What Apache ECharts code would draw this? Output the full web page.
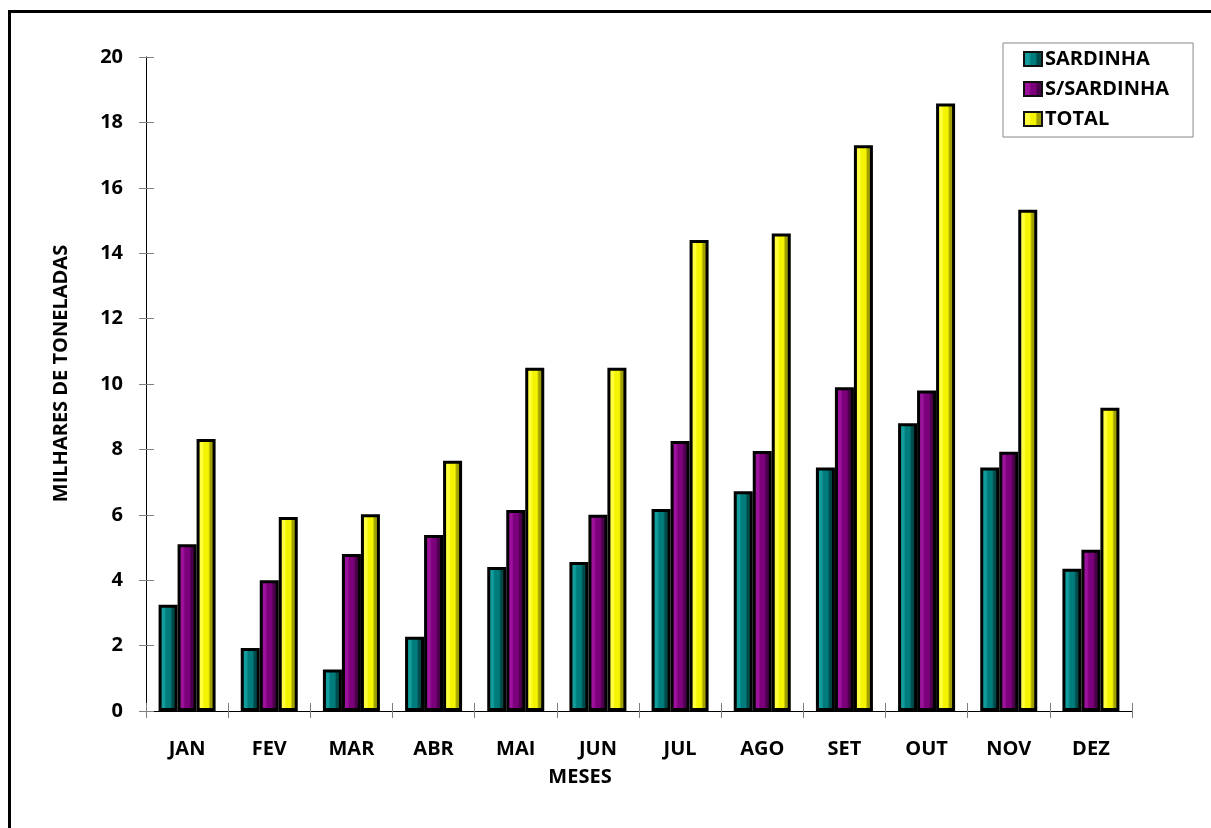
<!DOCTYPE html>
<html>
<head>
<meta charset="utf-8">
<script src="https://cdn.jsdelivr.net/npm/echarts@6/dist/echarts.min.js"></script>
<style>
html,body{margin:0;padding:0;background:#fff;}
#chart{width:1211px;height:828px;}
</style>
</head>
<body>
<div id="chart"></div>
<script>
const categories = ['JAN','FEV','MAR','ABR','MAI','JUN','JUL','AGO','SET','OUT','NOV','DEZ'];
const sardinha   = [3.25, 1.93, 1.27, 2.27, 4.40, 4.56, 6.18, 6.72, 7.45, 8.80, 7.45, 4.35];
const sSardinha  = [5.10, 4.00, 4.80, 5.38, 6.15, 6.00, 8.26, 7.95, 9.90, 9.80, 7.93, 4.93];
const total      = [8.32, 5.93, 6.02, 7.65, 10.50, 10.50, 14.40, 14.60, 17.30, 18.58, 15.33, 9.27];
const seriesNames = ['SARDINHA','S/SARDINHA','TOTAL'];
const yTicks = {min:0, max:20, interval:2};

const FONT = '"Open Sans", sans-serif';

function bevel(light, base, dark){
  return new echarts.graphic.LinearGradient(0,0,1,0,[
    {offset:0, color:dark},
    {offset:0.1, color:light},
    {offset:0.3, color:light},
    {offset:0.4, color:base},
    {offset:0.62, color:base},
    {offset:0.72, color:dark},
    {offset:1, color:dark}
  ]);
}
const fills = [
  bevel('#129c9c','#007c7c','#004a4a'),
  bevel('#9c129c','#7c007c','#4a004a'),
  bevel('#ffff40','#f4f400','#a0a000')
];
const dataSets = [sardinha, sSardinha, total];

const chart = echarts.init(document.getElementById('chart'), null, {renderer:'canvas'});
const grid = {left:146, right:79, top:57, bottom:117, containLabel:false};

const option = {
  animation:false,
  backgroundColor:'#ffffff',
  grid: grid,
  legend: {
    data: seriesNames,
    orient:'vertical',
    left:1003, top:43,
    itemWidth:18, itemHeight:14, itemGap:10,
    padding:[6,24,8,20],
    borderColor:'#888888', borderWidth:1,
    icon:'rect',
    itemStyle:{borderColor:'#111', borderWidth:2},
    textStyle:{fontFamily:FONT, fontWeight:'bold', fontSize:20, color:'#000', padding:[0,0,0,-2]}
  },
  xAxis: [{
    type:'category', data:categories, position:'bottom',
    axisLine:{show:true, lineStyle:{color:'#000', width:1}},
    axisTick:{show:true, alignWithLabel:false, length:7, lineStyle:{color:'#808080'}},
    axisLabel:{margin:28, fontFamily:FONT, fontWeight:'bold', fontSize:20, color:'#000'},
    splitLine:{show:false}
  },{
    type:'category', data:categories, position:'bottom',
    axisLine:{show:false},
    axisTick:{show:true, inside:true, length:8, lineStyle:{color:'#808080'}},
    axisLabel:{show:false}, splitLine:{show:false}
  }],
  yAxis: [{
    type:'value', min:yTicks.min, max:yTicks.max, interval:yTicks.interval,
    axisLine:{show:true, lineStyle:{color:'#000', width:1}},
    axisTick:{show:true, length:7, lineStyle:{color:'#808080'}},
    axisLabel:{margin:23, fontFamily:FONT, fontWeight:'bold', fontSize:20, color:'#000'},
    splitLine:{show:false}
  },{
    type:'value', min:yTicks.min, max:yTicks.max, interval:yTicks.interval, position:'left',
    axisLine:{show:false},
    axisTick:{show:true, inside:true, length:8, lineStyle:{color:'#808080'}},
    axisLabel:{show:false}, splitLine:{show:false}
  }],
  series: seriesNames.map((n,i)=>({
    name:n, type:'bar', data:dataSets[i],
    xAxisIndex:0, yAxisIndex:0,
    barWidth:19, barGap:'0%',
    itemStyle:{color:fills[i], borderColor:'#000', borderWidth:3}
  })),
  graphic: [
    {type:'rect', silent:true, shape:{x:9.5, y:11.5, width:1300, height:900},
     style:{fill:'none', stroke:'#000', lineWidth:3}},
    {type:'text', x:61, y:373.5, rotation:Math.PI/2,
     style:{text:'MILHARES DE TONELADAS', fontFamily:FONT, fontWeight:'bold', fontSize:20, fill:'#000',
            textAlign:'center', textVerticalAlign:'middle'}},
    {type:'text', x:580, y:777,
     style:{text:'MESES', fontFamily:FONT, fontWeight:'bold', fontSize:20, fill:'#000',
            textAlign:'center', textVerticalAlign:'middle'}}
  ]
};
chart.setOption(option);
</script>
</body>
</html>
